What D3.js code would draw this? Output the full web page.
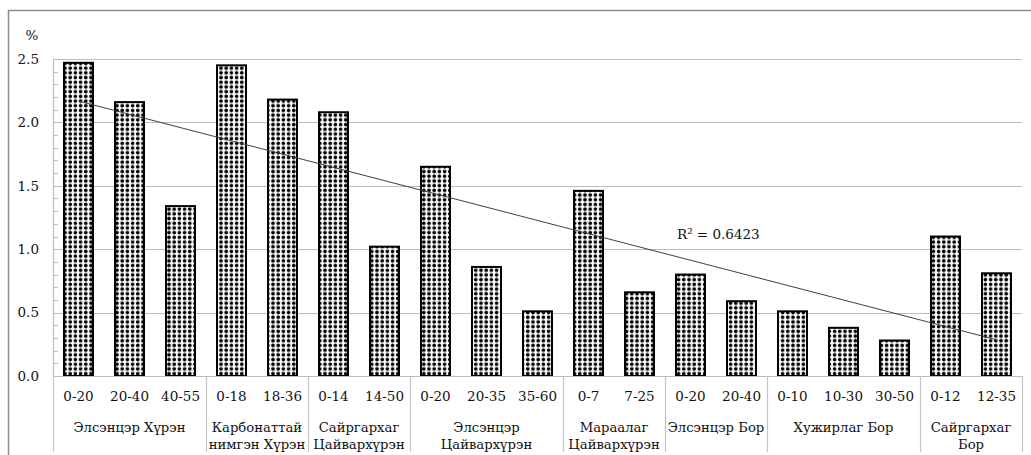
<!DOCTYPE html>
<html>
<head>
<meta charset="utf-8">
<script src="https://cdn.jsdelivr.net/npm/d3@7"></script>
<style>
  html, body { margin: 0; padding: 0; background: #fff; }
  svg { display: block; }
  text { font-family: "DejaVu Serif", serif; fill: #111; }
</style>
</head>
<body>
<svg id="chart" width="1031" height="455"></svg>
<script>
// Soil types (two-line names where the label wraps) and the number of sampled layers in each
const soilTypes = [
  ["Элсэнцэр Хүрэн"],
  ["Карбонаттай", "нимгэн Хүрэн"],
  ["Сайргархаг", "Цайвархүрэн"],
  ["Элсэнцэр", "Цайвархүрэн"],
  ["Мараалаг", "Цайвархүрэн"],
  ["Элсэнцэр Бор"],
  ["Хужирлаг Бор"],
  ["Сайргархаг", "Бор"]
];
const layersPerSoil = [3, 2, 2, 3, 2, 2, 3, 2];

// Sampling depth (cm) of each layer
const depths = [
  "0-20", "20-40", "40-55",
  "0-18", "18-36",
  "0-14", "14-50",
  "0-20", "20-35", "35-60",
  "0-7", "7-25",
  "0-20", "20-40",
  "0-10", "10-30", "30-50",
  "0-12", "12-35"
];

// Content, %
const values = [
  2.47, 2.16, 1.34,
  2.45, 2.18,
  2.08, 1.02,
  1.65, 0.86, 0.51,
  1.46, 0.66,
  0.80, 0.59,
  0.51, 0.38, 0.28,
  1.10, 0.81
];

const yTicks = [0, 0.5, 1.0, 1.5, 2.0, 2.5];
const yUnit = "%";
const r2Label = "R² = 0.6423";

const svg = d3.select("#chart");
const plot = { left: 53, right: 1022, top: 59, bottom: 376 };

// Outer frame
svg.append("rect")
  .attr("x", 8.5).attr("y", 10.5)
  .attr("width", 1040).attr("height", 460)
  .attr("fill", "none").attr("stroke", "#8c8c8c").attr("stroke-width", 1.5);

// Bar fill: solid dots on a grid
const defs = svg.append("defs");
const pat = defs.append("pattern")
  .attr("id", "dots").attr("patternUnits", "userSpaceOnUse")
  .attr("width", 5.2).attr("height", 4.7);
pat.append("rect").attr("width", 5.2).attr("height", 4.7).attr("fill", "#fff");
pat.append("circle").attr("cx", 2.6).attr("cy", 2.35).attr("r", 1.8).attr("fill", "#000");

const pi = 22 / 51;
const x = d3.scaleBand()
  .domain(d3.range(values.length))
  .range([plot.left, plot.right])
  .paddingInner(pi)
  .paddingOuter(pi / 2);

const y = d3.scaleLinear().domain([0, 2.5]).range([plot.bottom, plot.top]);

// Horizontal gridlines
svg.append("g").selectAll("line")
  .data(yTicks)
  .join("line")
  .attr("x1", plot.left).attr("x2", plot.right)
  .attr("y1", d => Math.round(y(d)) + 0.5).attr("y2", d => Math.round(y(d)) + 0.5)
  .attr("stroke", "#bcbcbc").attr("stroke-width", 1.2);

// Vertical axis line with inside minor ticks
svg.append("line")
  .attr("x1", plot.left + 0.5).attr("x2", plot.left + 0.5)
  .attr("y1", plot.top).attr("y2", plot.bottom)
  .attr("stroke", "#bcbcbc").attr("stroke-width", 1.2);
svg.append("g").selectAll("line")
  .data(d3.range(0, 26).map(i => i / 10))
  .join("line")
  .attr("x1", plot.left).attr("x2", plot.left + 5)
  .attr("y1", d => Math.round(y(d)) + 0.5).attr("y2", d => Math.round(y(d)) + 0.5)
  .attr("stroke", "#bcbcbc").attr("stroke-width", 1);

// Y axis labels
const yAxis = svg.append("g")
  .attr("transform", `translate(${plot.left - 14},0)`)
  .call(d3.axisLeft(y).tickValues(yTicks).tickFormat(d3.format(".1f")).tickSize(0).tickPadding(0));
yAxis.select(".domain").remove();
yAxis.selectAll("text")
  .attr("font-family", "DejaVu Serif").attr("font-size", 13.5).attr("fill", "#111");

svg.append("text")
  .attr("x", 32).attr("y", 40)
  .attr("text-anchor", "middle")
  .attr("font-size", 13.5)
  .text(yUnit);

// Bars
svg.append("g").selectAll("rect")
  .data(values)
  .join("rect")
  .attr("x", (d, i) => x(i))
  .attr("y", d => y(d))
  .attr("width", x.bandwidth())
  .attr("height", d => y(0) - y(d))
  .attr("fill", "url(#dots)")
  .attr("stroke", "#000").attr("stroke-width", 2);

// Baseline
svg.append("line")
  .attr("x1", plot.left).attr("x2", plot.right)
  .attr("y1", plot.bottom + 0.5).attr("y2", plot.bottom + 0.5)
  .attr("stroke", "#bcbcbc").attr("stroke-width", 1.2);

// Depth labels (first category level)
const xAxis = svg.append("g")
  .attr("transform", `translate(0,${plot.bottom})`)
  .call(d3.axisBottom(x).tickFormat(i => depths[i]).tickSize(0).tickPadding(15));
xAxis.select(".domain").remove();
xAxis.selectAll("text")
  .attr("font-family", "DejaVu Serif").attr("font-size", 13.5).attr("fill", "#111");

// Soil type labels (second category level) and separators
const step = x.step();
const starts = d3.cumsum([0, ...layersPerSoil]);
const edge = k => plot.left + k * step;
svg.append("g").selectAll("line")
  .data(starts)
  .join("line")
  .attr("x1", k => Math.round(edge(k)) + 0.5).attr("x2", k => Math.round(edge(k)) + 0.5)
  .attr("y1", plot.bottom).attr("y2", 452)
  .attr("stroke", "#c4c4c4").attr("stroke-width", 1.2);

const groupLabels = svg.append("g");
soilTypes.forEach((lines, g) => {
  const cx = (edge(starts[g]) + edge(starts[g + 1])) / 2;
  const t = groupLabels.append("text")
    .attr("text-anchor", "middle")
    .attr("font-size", 13.2);
  lines.forEach((ln, j) => {
    t.append("tspan").attr("x", cx).attr("y", 432 + j * 17).text(ln);
  });
});

// Linear trendline through bar centres
const xs = values.map((d, i) => i + 1);
const mx = d3.mean(xs), my = d3.mean(values);
const slope = d3.sum(xs, (xi, i) => (xi - mx) * (values[i] - my)) / d3.sum(xs, xi => (xi - mx) ** 2);
const intercept = my - slope * mx;
const centre = i => x(i) + x.bandwidth() / 2;
const n = values.length;
svg.append("line")
  .attr("x1", centre(0)).attr("y1", y(intercept + slope * 1))
  .attr("x2", centre(n - 1)).attr("y2", y(intercept + slope * n))
  .attr("stroke", "#404040").attr("stroke-width", 1);

svg.append("text")
  .attr("x", 677).attr("y", 239)
  .attr("font-size", 13.5)
  .text(r2Label);
</script>
</body>
</html>
